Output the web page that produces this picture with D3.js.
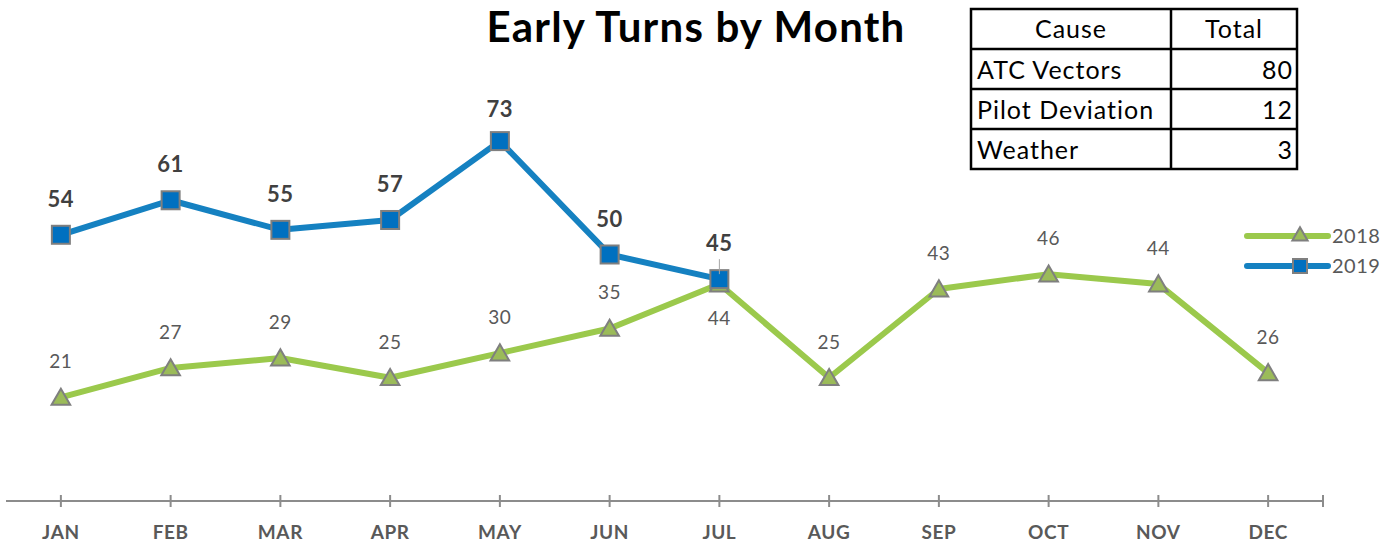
<!DOCTYPE html>
<html>
<head>
<meta charset="utf-8">
<script src="https://cdn.jsdelivr.net/npm/d3@7"></script>
<style>
  body { margin: 0; background: #fff; }
  svg { display: block; font-family: Lato, "Open Sans", sans-serif; }
</style>
</head>
<body>
<div id="chart"></div>
<script>
const months = ["JAN","FEB","MAR","APR","MAY","JUN","JUL","AUG","SEP","OCT","NOV","DEC"];
const values2018 = [21, 27, 29, 25, 30, 35, 44, 25, 43, 46, 44, 26];
const values2019 = [54, 61, 55, 57, 73, 50, 45];
const causes = ["ATC Vectors", "Pilot Deviation", "Weather"];
const causeTotals = [80, 12, 3];
const title = "Early Turns by Month";

const width = 1398, height = 544;
const svg = d3.select("#chart").append("svg")
  .attr("width", width).attr("height", height);

// band scale for months, y linear from axis line up
const x = d3.scaleBand().domain(months).range([6, 1323]);
const cx = d => x(d) + x.bandwidth() / 2;
const y = d3.scaleLinear().domain([0, 100]).range([501, 8]);

// x axis
const axis = svg.append("g").attr("transform", "translate(0,501)");
axis.append("line").attr("x1", 6).attr("x2", 1323)
  .attr("stroke", "#8c8c8c").attr("stroke-width", 2);
axis.selectAll(".tick").data(months.map(cx).concat([1323])).join("line")
  .attr("x1", d => d).attr("x2", d => d).attr("y1", -6).attr("y2", 6)
  .attr("stroke", "#8c8c8c").attr("stroke-width", 2);
axis.selectAll(".lbl").data(months).join("text")
  .attr("x", cx).attr("y", 38).attr("text-anchor", "middle")
  .attr("font-size", 19).attr("font-weight", "bold").attr("fill", "#595959")
  .attr("letter-spacing", 0.6)
  .text(d => d);

const line = d3.line().x((d, i) => cx(months[i])).y(d => y(d));

// 2018
const c18 = "#9bc94c", c19 = "#1581c1";
svg.append("path").datum(values2018).attr("d", line)
  .attr("fill", "none").attr("stroke", c18).attr("stroke-width", 6)
  .attr("stroke-linejoin", "round").attr("stroke-linecap", "round");
// 2019
svg.append("path").datum(values2019).attr("d", line)
  .attr("fill", "none").attr("stroke", c19).attr("stroke-width", 6)
  .attr("stroke-linejoin", "round").attr("stroke-linecap", "round");

const tri = d3.symbol().type(d3.symbolTriangle).size(150);
svg.selectAll(".m18").data(values2018).join("path")
  .attr("d", tri)
  .attr("transform", (d, i) => `translate(${cx(months[i])},${y(d) + 2})`)
  .attr("fill", "#9bbb59").attr("stroke", "#7f7f7f").attr("stroke-width", 2);

svg.selectAll(".m19").data(values2019).join("rect")
  .attr("x", (d, i) => cx(months[i]) - 9).attr("y", d => y(d) - 9)
  .attr("width", 18).attr("height", 18)
  .attr("fill", "#0070c0").attr("stroke", "#7f7f7f").attr("stroke-width", 2);

// labels 2018
svg.selectAll(".l18").data(values2018).join("text")
  .attr("x", (d, i) => cx(months[i]))
  .attr("y", (d, i) => i === 6 ? y(d) + 41 : y(d) - 29)
  .attr("text-anchor", "middle").attr("font-size", 19).attr("fill", "#595959")
  .attr("letter-spacing", 0.5)
  .text(d => d);

// leader line for JUL 2019
svg.append("line")
  .attr("x1", cx("JUL")).attr("x2", cx("JUL"))
  .attr("y1", y(values2019[6]) - 20).attr("y2", y(values2019[6]) - 5)
  .attr("stroke", "#a6a6a6").attr("stroke-width", 1);

svg.selectAll(".l19").data(values2019).join("text")
  .attr("x", (d, i) => cx(months[i]))
  .attr("y", (d, i) => i === 4 ? y(d) - 24 : y(d) - 28)
  .attr("text-anchor", "middle").attr("font-size", 22).attr("font-weight", "bold")
  .attr("fill", "#404040").attr("letter-spacing", 0.5)
  .text(d => d);

// title
svg.append("text").attr("x", 696).attr("y", 42).attr("text-anchor", "middle")
  .attr("font-size", 42).attr("font-weight", "bold").attr("fill", "#000")
  .attr("letter-spacing", 1.2)
  .text(title);

// table
const tbl = svg.append("g");
const tx0 = 971, tx1 = 1171, tx2 = 1297;
const rowsY = [9, 49, 89, 129, 169];
tbl.append("rect").attr("x", tx0).attr("y", rowsY[0])
  .attr("width", tx2 - tx0).attr("height", rowsY[4] - rowsY[0])
  .attr("fill", "#fff").attr("stroke", "#000").attr("stroke-width", 2.5);
tbl.selectAll(".hl").data(rowsY.slice(1, 4)).join("line")
  .attr("x1", tx0).attr("x2", tx2).attr("y1", d => d).attr("y2", d => d)
  .attr("stroke", "#000").attr("stroke-width", 2.5);
tbl.append("line").attr("x1", tx1).attr("x2", tx1).attr("y1", rowsY[0]).attr("y2", rowsY[4])
  .attr("stroke", "#000").attr("stroke-width", 2.5);
tbl.append("text").attr("x", (tx0 + tx1) / 2).attr("y", 38).attr("text-anchor", "middle")
  .attr("font-size", 25).attr("letter-spacing", 1).text("Cause");
tbl.append("text").attr("x", (tx1 + tx2) / 2).attr("y", 38).attr("text-anchor", "middle")
  .attr("font-size", 25).attr("letter-spacing", 1).text("Total");
tbl.selectAll(".cn").data(causes).join("text")
  .attr("x", tx0 + 6).attr("y", (d, i) => rowsY[i + 1] + 30)
  .attr("font-size", 25).attr("letter-spacing", 1).text(d => d);
tbl.selectAll(".ct").data(causeTotals).join("text")
  .attr("x", tx2 - 4).attr("y", (d, i) => rowsY[i + 1] + 30).attr("text-anchor", "end")
  .attr("font-size", 25).attr("letter-spacing", 1).text(d => d);

// legend
const legend = svg.append("g");
const legItems = [
  { name: "2018", color: c18, shape: "tri", yy: 236 },
  { name: "2019", color: c19, shape: "sq", yy: 266 }
];
legItems.forEach(it => {
  legend.append("line").attr("x1", 1247).attr("x2", 1328)
    .attr("y1", it.yy).attr("y2", it.yy)
    .attr("stroke", it.color).attr("stroke-width", 6).attr("stroke-linecap", "round");
  if (it.shape === "tri") {
    legend.append("path").attr("d", d3.symbol().type(d3.symbolTriangle).size(100))
      .attr("transform", `translate(1300,${it.yy})`)
      .attr("fill", "#9bbb59").attr("stroke", "#7f7f7f").attr("stroke-width", 2);
  } else {
    legend.append("rect").attr("x", 1293).attr("y", it.yy - 7).attr("width", 14).attr("height", 14)
      .attr("fill", "#0070c0").attr("stroke", "#7f7f7f").attr("stroke-width", 2);
  }
  legend.append("text").attr("x", 1332).attr("y", it.yy + 7)
    .attr("font-size", 20).attr("fill", "#595959").attr("letter-spacing", 0.5).text(it.name);
});
</script>
</body>
</html>
